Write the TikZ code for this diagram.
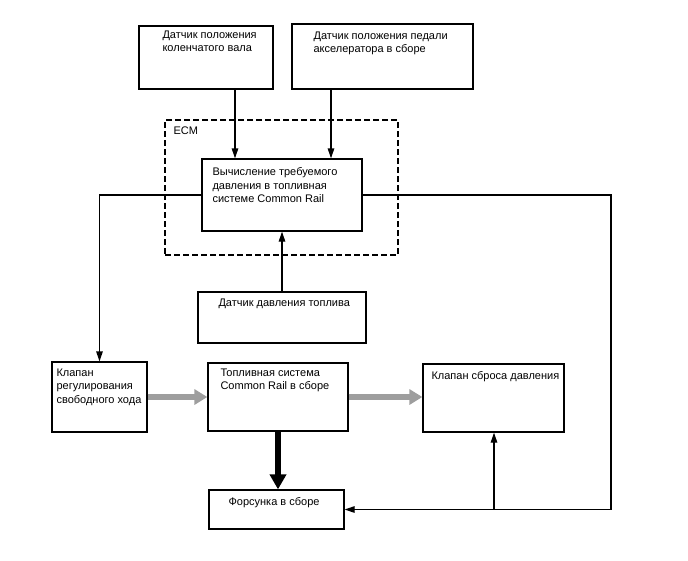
\documentclass[tikz,border=0pt]{standalone}
\usepackage{fontspec}
\setmainfont{Liberation Sans}
\usetikzlibrary{arrows.meta, positioning, calc}

\begin{document}
\begin{tikzpicture}[
  x=1pt, y=-1pt,
  box/.style={draw, line width=1.3pt, inner sep=0pt},
  txt/.style={anchor=north west, align=left, inner sep=0pt, font=\fontsize{11}{13.5}\selectfont},
  arr/.style={-{Triangle[length=10pt, width=6.5pt]}, line width=1.3pt},
  flow/.style={-{Triangle[length=13pt, width=15pt]}, line width=6pt, black!38},
  feed/.style={-{Triangle[length=15pt, width=16pt]}, line width=6.5pt, black}
]
\useasboundingbox (0,0) rectangle (688,560);

% sensors on top
\node[box, minimum width=134pt, minimum height=63pt] (crank) at (206,57.5) {};
\node[box, minimum width=181pt, minimum height=65pt] (pedal) at (382.5,56.5) {};

% ECM
\node[box, dashed, dash pattern=on 6pt off 3pt, minimum width=233pt, minimum height=135pt] (ecm) at (281.5,187.5) {};
\node[box, minimum width=160pt, minimum height=72pt] (calc) at (282,195) {};
\node[box, minimum width=168pt, minimum height=51pt] (sensor) at (282,317.5) {};

% fuel path
\node[box, minimum width=95pt, minimum height=70pt] (valve) at (99.5,397) {};
\node[box, minimum width=140pt, minimum height=68pt] (rail) at (278,397) {};
\node[box, minimum width=141pt, minimum height=68pt] (relief) at (493.5,398) {};
\node[box, minimum width=135pt, minimum height=39pt] (injector) at (276.5,509.5) {};

% texts
\node[txt] (crankt) at ([shift={(24,5)}]crank.north west) {Датчик положения\\коленчатого вала};
\node[txt] (pedalt) at ([shift={(22,8)}]pedal.north west) {Датчик положения педали\\акселератора в сборе};
\node[txt] (ecmt) at ([shift={(9,7)}]ecm.north west) {ECM};
\node[txt] (calct) at ([shift={(11,9)}]calc.north west) {Вычисление требуемого\\давления в топливная\\системе Common Rail};
\node[txt] (sensort) at ([shift={(21,7)}]sensor.north west) {Датчик давления топлива};
\node[txt] (valvet) at ([shift={(5,7)}]valve.north west) {Клапан\\регулирования\\свободного хода};
\node[txt] (railt) at ([shift={(13,6)}]rail.north west) {Топливная система\\Common Rail в сборе};
\node[txt] (relieft) at ([shift={(9,8)}]relief.north west) {Клапан сброса давления};
\node[txt] (injectort) at ([shift={(20,8)}]injector.north west) {Форсунка в сборе};

\coordinate (crankout) at ([shift={(29,0)}]crank.south);
\coordinate (pedalout) at ([shift={(-51.5,0)}]pedal.south);
\coordinate (bus) at (611,509.5);
\coordinate (tap) at (494,509.5);

\draw[arr] (crankout) -- (crankout |- calc.north);
\draw[arr] (pedalout) -- (pedalout |- calc.north);
\draw[arr] (sensor.north -| calc.south) -- (calc.south);
\draw[arr] (calc.west) -| (valve.north);
\draw[arr] (calc.east) -| (bus) -- (injector.east);
\draw[arr] (tap) -- (tap |- relief.south);

\draw[flow] (valve.east) -- (valve.east -| rail.west);
\draw[flow] (rail.east) -- (rail.east -| relief.west);
\draw[feed] (rail.south) -- (rail.south |- injector.north);
\end{tikzpicture}
\end{document}
